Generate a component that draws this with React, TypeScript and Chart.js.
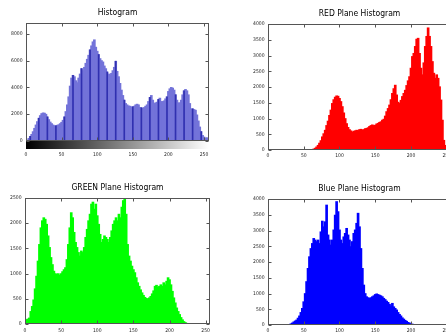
import React, { useEffect, useRef } from "react";
import { Chart, registerables } from "chart.js";

Chart.register(...registerables);

// ---------- data (bin counts, one value per 2 intensity levels: 0,2,4,...,254) ----------
const BIN_WIDTH = 2;
const intensityBins: number[] = Array.from({ length: 128 }, (_, i) => i * BIN_WIDTH);

const xTickValues = [0, 50, 100, 150, 200, 250];

const grayCounts = [
  0, 80, 200, 350, 500, 700, 950, 1200, 1450, 1700, 1900, 2050, 2100, 2080, 2000, 1800,
  1600, 1420, 1300, 1200, 1150, 1130, 1180, 1220, 1300, 1400, 1550, 1800, 2200, 2700, 3300, 4100,
  4700, 4900, 4800, 4500, 4350, 4700, 5000, 5400, 5250, 5500, 5800, 6100, 6400, 6800, 7100, 7400,
  7550, 7000, 6700, 6450, 6150, 6000, 5900, 5600, 5400, 5150, 5000, 4950, 5050, 5250, 5500, 5950,
  5200, 4800, 4300, 3800, 3400, 3050, 2800, 2700, 2620, 2600, 2550, 2550, 2600, 2700, 2750, 2700,
  2500, 2480, 2450, 2500, 2600, 2700, 2950, 3250, 3400, 3050, 2800, 2850, 2900, 3100, 3200, 2950,
  2950, 3000, 3150, 3300, 3700, 3900, 4000, 3950, 3800, 3450, 3050, 2850, 2850, 3050, 3450, 3750,
  3850, 3750, 3450, 2800, 2400, 2400, 2350, 2300, 1950, 1500, 1050, 700, 420, 300, 220, 250,
];
const grayYTicks = [0, 2000, 4000, 6000, 8000];

const redCounts = [
  0, 0, 0, 0, 0, 0, 0, 0, 0, 0, 0, 0, 0, 0, 0, 0,
  0, 0, 0, 0, 0, 0, 0, 0, 0, 0, 0, 0, 0, 0, 10, 20,
  35, 60, 100, 150, 220, 300, 420, 520, 630, 780, 920, 1100, 1270, 1480, 1600, 1680,
  1720, 1710, 1640, 1540, 1380, 1180, 1000, 840, 720, 650, 610, 570, 600, 610, 630, 620,
  650, 660, 640, 650, 680, 690, 710, 750, 780, 800, 780, 790, 830, 850, 880, 900,
  950, 980, 1080, 1220, 1320, 1430, 1600, 1800, 1950, 2060, 1750, 1520, 1480, 1580, 1700, 1800,
  1900, 2050, 2200, 2330, 2600, 2970, 3070, 3290, 3520, 3550, 3070, 2600, 2390, 2770, 3290, 3610,
  3880, 3610, 3290, 2810, 2440, 2280, 2390, 2280, 2010, 1590, 950, 310, 150, 80, 40, 20,
];
const redYTicks = [0, 500, 1000, 1500, 2000, 2500, 3000, 3500, 4000];

const greenCounts = [
  85, 90, 100, 120, 250, 350, 480, 700, 950, 1250, 1580, 1910, 2050, 2110, 2080, 1980,
  1750, 1520, 1320, 1180, 1050, 1000, 990, 1000, 970, 1000, 1040, 1080, 1120, 1280, 1580, 1910,
  2210, 2110, 1820, 1620, 1520, 1420, 1350, 1450, 1420, 1520, 1720, 1880, 2050, 2180, 2380, 2420,
  2280, 2380, 2150, 1980, 1780, 1620, 1680, 1750, 1720, 1680, 1620, 1720, 1850, 1980, 2050, 2110,
  2050, 2180, 2110, 2320, 2450, 2520, 2180, 1580, 1350, 1250, 1150, 1080, 1020, 920, 820, 750,
  680, 620, 570, 530, 510, 500, 520, 550, 600, 660, 750, 770, 730, 750, 780, 750,
  820, 780, 850, 920, 880, 780, 650, 520, 420, 320, 250, 190, 130, 85, 50, 30,
  15, 5, 0, 0, 0, 0, 0, 0, 0, 0, 0, 0, 0, 0, 0, 0,
];
const greenYTicks = [0, 500, 1000, 1500, 2000, 2500];

const blueCounts = [
  0, 0, 0, 0, 0, 0, 0, 0, 0, 0, 0, 0, 0, 0, 0, 20,
  40, 65, 100, 130, 160, 220, 290, 400, 530, 740, 1000, 1380, 1800, 2170, 2430, 2590,
  2750, 2700, 2650, 2700, 2590, 2960, 3300, 3120, 3280, 3810, 2860, 2700, 2540, 2700, 3020, 3490,
  3920, 3600, 3020, 2700, 2590, 2800, 2910, 3070, 2860, 2700, 2490, 2650, 2910, 3020, 3230, 3550,
  3120, 2430, 1800, 1270, 1000, 900, 870, 850, 870, 900, 930, 970, 990, 970, 950, 930,
  900, 850, 810, 760, 720, 660, 610, 690, 580, 530, 480, 400, 340, 290, 230, 190,
  150, 120, 85, 65, 40, 30, 20, 15, 10, 5, 0, 0, 0, 0, 0, 0,
  0, 0, 0, 0, 0, 0, 0, 0, 0, 0, 0, 0, 0, 0, 0, 0,
];
const blueYTicks = [0, 500, 1000, 1500, 2000, 2500, 3000, 3500, 4000];

// ---------- layout / style ----------
const FONT = '"Liberation Sans Narrow", "DejaVu Sans Condensed", "Liberation Sans", Arial, sans-serif';
const Y_AXIS_W = 30;
const TITLE_H = 24;
const RIGHT_PAD = 12;
const STEM_EVERY = 6;

type PanelCfg = {
  id: string;
  title: string;
  values: number[];
  yTicks: number[];
  yMax: number;
  xMax: number;
  color: string;
  stemColor?: string;
  colorbar?: boolean;
  area: { l: number; t: number; r: number; b: number };
  xAxisH: number;
  xLabelPad: number;
};

const PANELS: PanelCfg[] = [
  {
    id: "gray", title: "Histogram", values: grayCounts, yTicks: grayYTicks, yMax: 8800, xMax: 257,
    color: "#7373d9", stemColor: "#3030b0", colorbar: true,
    area: { l: 26, t: 23, r: 209, b: 141 }, xAxisH: 27, xLabelPad: 11,
  },
  {
    id: "red", title: "RED Plane Histogram", values: redCounts, yTicks: redYTicks, yMax: 4000, xMax: 256,
    color: "#ff0000",
    area: { l: 268, t: 24, r: 451, b: 150 }, xAxisH: 14, xLabelPad: 3,
  },
  {
    id: "green", title: "GREEN Plane Histogram", values: greenCounts, yTicks: greenYTicks, yMax: 2500, xMax: 256,
    color: "#00ff00",
    area: { l: 25, t: 198, r: 210, b: 324 }, xAxisH: 14, xLabelPad: 4,
  },
  {
    id: "blue", title: "Blue Plane Histogram", values: blueCounts, yTicks: blueYTicks, yMax: 4000, xMax: 256,
    color: "#0000ff",
    area: { l: 268, t: 199, r: 451, b: 325 }, xAxisH: 14, xLabelPad: 3,
  },
];

const framePlugin = {
  id: "frame",
  afterDatasetsDraw(chart: any, _args: any, opts: any) {
    const { ctx, chartArea: a, scales } = chart;
    const L = Math.round(a.left) + 0.5;
    const R = Math.round(a.right) - 0.5;
    const T = Math.round(a.top) + 0.5;
    const B = Math.round(a.bottom) - 0.5;
    ctx.save();
    if (opts && opts.colorbar) {
      const g = ctx.createLinearGradient(a.left, 0, a.right, 0);
      g.addColorStop(0, "#000000");
      g.addColorStop(1, "#ffffff");
      ctx.fillStyle = g;
      ctx.fillRect(a.left, a.bottom, a.right - a.left, 8);
    }
    ctx.strokeStyle = "#555";
    ctx.lineWidth = 1;
    ctx.strokeRect(L, T, R - L, B - T);
    ctx.beginPath();
    const tk = 3;
    scales.x.ticks.forEach((t: any) => {
      const px = Math.round(scales.x.getPixelForValue(t.value)) + 0.5;
      ctx.moveTo(px, B); ctx.lineTo(px, B - tk);
      ctx.moveTo(px, T); ctx.lineTo(px, T + tk);
    });
    scales.y.ticks.forEach((t: any) => {
      const py = Math.round(scales.y.getPixelForValue(t.value)) + 0.5;
      ctx.moveTo(L, py); ctx.lineTo(L + tk, py);
      ctx.moveTo(R, py); ctx.lineTo(R - tk, py);
    });
    ctx.stroke();
    ctx.restore();
  },
};

function HistPanel({ cfg }: { cfg: PanelCfg }) {
  const ref = useRef<HTMLCanvasElement | null>(null);
  const { area } = cfg;
  const left = area.l - Y_AXIS_W;
  const top = area.t - TITLE_H;
  const width = Y_AXIS_W + (area.r - area.l) + RIGHT_PAD;
  const height = TITLE_H + (area.b - area.t) + cfg.xAxisH;

  useEffect(() => {
    if (!ref.current) return;
    const points = intensityBins.map((x, i) => ({ x, y: cfg.values[i] }));
    const datasets: any[] = [
      {
        label: cfg.title,
        data: points,
        backgroundColor: cfg.color,
        borderWidth: 0,
        barThickness: 2,
        grouped: false,
        order: 2,
      },
    ];
    if (cfg.stemColor) {
      datasets.push({
        label: cfg.title + " stems",
        data: points.filter((_, i) => i % STEM_EVERY === 3),
        backgroundColor: cfg.stemColor,
        borderWidth: 0,
        barThickness: 1,
        grouped: false,
        order: 1,
      });
    }
    const chart = new Chart(ref.current, {
      type: "bar",
      data: { datasets },
      options: {
        responsive: false,
        animation: false,
        devicePixelRatio: 1,
        events: [],
        layout: { padding: { left: 0, top: 0, right: RIGHT_PAD, bottom: 0 } },
        plugins: {
          legend: { display: false },
          tooltip: { enabled: false },
          title: {
            display: true,
            text: cfg.title,
            fullSize: false,
            color: "#000",
            font: { family: FONT, size: 8.5, weight: "normal", lineHeight: 1 },
            padding: { top: 10, bottom: 5.5 },
          },
          frame: { colorbar: !!cfg.colorbar },
        } as any,
        scales: {
          x: {
            type: "linear",
            min: 0,
            max: cfg.xMax,
            offset: false,
            grid: { display: false, drawTicks: false, offset: false },
            border: { display: false },
            ticks: {
              font: { family: FONT, size: 5 },
              color: "#222",
              padding: cfg.xLabelPad,
              autoSkip: false,
              maxRotation: 0,
              callback: (v: any) => String(v),
            },
            afterBuildTicks: (s: any) => {
              s.ticks = xTickValues.map((value) => ({ value }));
            },
            afterFit: (s: any) => {
              s.height = cfg.xAxisH;
            },
          },
          y: {
            type: "linear",
            min: 0,
            max: cfg.yMax,
            grid: { display: false, drawTicks: false },
            border: { display: false },
            ticks: {
              font: { family: FONT, size: 5 },
              color: "#222",
              padding: 3.5,
              autoSkip: false,
              callback: (v: any) => String(v),
            },
            afterBuildTicks: (s: any) => {
              s.ticks = cfg.yTicks.map((value) => ({ value }));
            },
            afterFit: (s: any) => {
              s.width = Y_AXIS_W;
            },
          },
        },
      } as any,
      plugins: [framePlugin],
    });
    return () => chart.destroy();
  }, [cfg]);

  return (
    <canvas
      ref={ref}
      width={width}
      height={height}
      style={{ position: "absolute", left, top, width, height, display: "block" }}
    />
  );
}

export default function App() {
  return (
    <div
      style={{
        position: "fixed",
        left: 0,
        top: 0,
        width: 446,
        height: 336,
        overflow: "hidden",
        background: "#ffffff",
      }}
    >
      {PANELS.map((p) => (
        <HistPanel key={p.id} cfg={p} />
      ))}
    </div>
  );
}
